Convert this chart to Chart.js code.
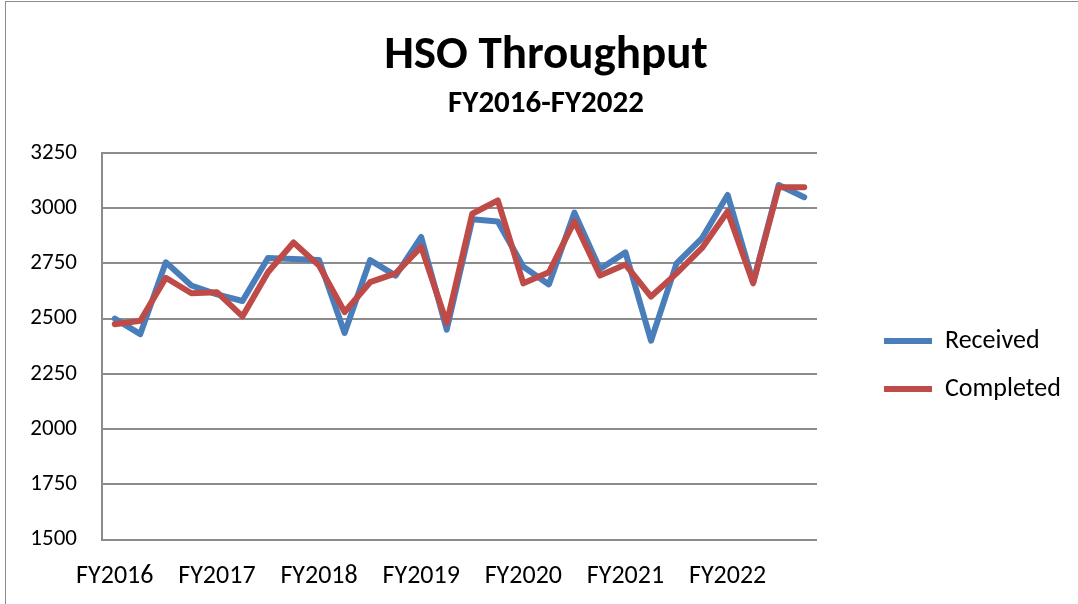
<!DOCTYPE html>
<html>
<head>
<meta charset="utf-8">
<script src="https://cdn.jsdelivr.net/npm/chart.js@4.4.1/dist/chart.umd.min.js"></script>
<style>
  html, body { margin: 0; padding: 0; background: #fff; width: 1078px; height: 604px; overflow: hidden; }
  #wrap { position: relative; width: 1078px; height: 604px; overflow: hidden; }
  #frame { position: absolute; left: 5px; top: 1px; width: 1100px; height: 620px;
           border-left: 1px solid #8c8c8c; border-top: 1px solid #8c8c8c; pointer-events: none; }
  canvas { position: absolute; left: 0; top: 0; }
</style>
</head>
<body>
<div id="wrap">
  <canvas id="c" width="1092" height="604"></canvas>
  <div id="frame"></div>
</div>
<script>
// ---- data ----
const categories = [
  'FY2016 Q1','FY2016 Q2','FY2016 Q3','FY2016 Q4',
  'FY2017 Q1','FY2017 Q2','FY2017 Q3','FY2017 Q4',
  'FY2018 Q1','FY2018 Q2','FY2018 Q3','FY2018 Q4',
  'FY2019 Q1','FY2019 Q2','FY2019 Q3','FY2019 Q4',
  'FY2020 Q1','FY2020 Q2','FY2020 Q3','FY2020 Q4',
  'FY2021 Q1','FY2021 Q2','FY2021 Q3','FY2021 Q4',
  'FY2022 Q1','FY2022 Q2','FY2022 Q3','FY2022 Q4'
];
const xTickLabels = ['FY2016','FY2017','FY2018','FY2019','FY2020','FY2021','FY2022'];
const received = [
  2500, 2430, 2755, 2650,
  2610, 2580, 2775, 2770,
  2765, 2435, 2765, 2695,
  2870, 2450, 2950, 2940,
  2735, 2655, 2980, 2725,
  2800, 2400, 2750, 2865,
  3060, 2665, 3105, 3050
];
const completed = [
  2475, 2490, 2685, 2615,
  2620, 2510, 2710, 2845,
  2740, 2530, 2665, 2705,
  2825, 2480, 2975, 3035,
  2660, 2710, 2940, 2695,
  2745, 2600, 2705, 2820,
  2985, 2660, 3095, 3095
];
const yMin = 1500, yMax = 3250, yStep = 250;

// ---- layout constants ----
const FONT = "Carlito, Lato, 'Noto Sans', sans-serif";
const Y_AXIS_W = 102;
const X_AXIS_H = 64.5;
const LEGEND_GAP_W = 45;
const LEGEND_W = 230;

Chart.defaults.font.family = FONT;
Chart.defaults.color = '#000';

const legendWidthPlugin = {
  id: 'legendWidth',
  beforeLayout(chart) {
    const lg = chart.legend;
    if (lg && !lg._fixedWidth) {
      const proto = Object.getPrototypeOf(lg);
      lg.fit = function () { proto.fit.call(this); this.width = LEGEND_W; };
      lg._fixedWidth = true;
    }
  }
};

new Chart(document.getElementById('c'), {
  type: 'line',
  data: {
    labels: categories,
    datasets: [
      { label: 'Received', data: received, borderColor: '#4a7ebb', backgroundColor: '#4a7ebb',
        borderWidth: 6, pointRadius: 0, pointHoverRadius: 0, tension: 0, order: 1,
        borderJoinStyle: 'round', borderCapStyle: 'round', pointStyle: 'line' },
      { label: 'Completed', data: completed, borderColor: '#be4b48', backgroundColor: '#be4b48',
        borderWidth: 6, pointRadius: 0, pointHoverRadius: 0, tension: 0, order: 0,
        borderJoinStyle: 'round', borderCapStyle: 'round', pointStyle: 'line' }
    ]
  },
  options: {
    responsive: false,
    animation: false,
    events: [],
    layout: { padding: 0 },
    plugins: {
      title: {
        display: true, text: 'HSO Throughput', color: '#000',
        font: { size: 47, weight: 'bold', lineHeight: 1 },
        padding: { top: 32.8, bottom: 0 }
      },
      subtitle: {
        display: true, text: 'FY2016-FY2022', color: '#000',
        font: { size: 31, weight: 'bold', lineHeight: 1 },
        padding: { top: 8.7, bottom: 33.5 }
      },
      legend: {
        display: true, position: 'right', fullSize: false, align: 'center',
        title: { display: true, text: '', font: { size: 1, lineHeight: 1 }, padding: { top: 0, bottom: 36.5 } },
        labels: {
          usePointStyle: true, pointStyle: 'line', pointStyleWidth: 48,
          padding: 22, color: '#000', font: { size: 26 },
          sort: (a, b) => a.datasetIndex - b.datasetIndex
        }
      },
      tooltip: { enabled: false }
    },
    scales: {
      x: {
        type: 'category', offset: true,
        grid: { display: false, drawTicks: false },
        border: { display: false },
        ticks: {
          autoSkip: false, maxRotation: 0, minRotation: 0, padding: 21,
          font: { size: 26 }, color: '#000',
          callback: function (v, i) { return i % 4 === 0 ? xTickLabels[i / 4] : ''; }
        },
        afterFit: function (s) { s.height = X_AXIS_H; s.paddingLeft = 0; s.paddingRight = 0; }
      },
      y: {
        type: 'linear', position: 'left', min: yMin, max: yMax,
        grid: { color: '#8c8c8c', lineWidth: 2, drawTicks: false },
        border: { display: true, color: '#8c8c8c', width: 2 },
        ticks: { stepSize: yStep, padding: 25, font: { size: 23 }, color: '#000',
                 callback: function (v) { return String(v); } },
        afterFit: function (s) { s.width = Y_AXIS_W; }
      },
      legendGap: {
        type: 'linear', position: 'right', display: true,
        grid: { display: false, drawTicks: false }, border: { display: false },
        ticks: { display: false },
        afterFit: function (s) { s.width = LEGEND_GAP_W; }
      }
    }
  },
  plugins: [legendWidthPlugin]
});
</script>
</body>
</html>
